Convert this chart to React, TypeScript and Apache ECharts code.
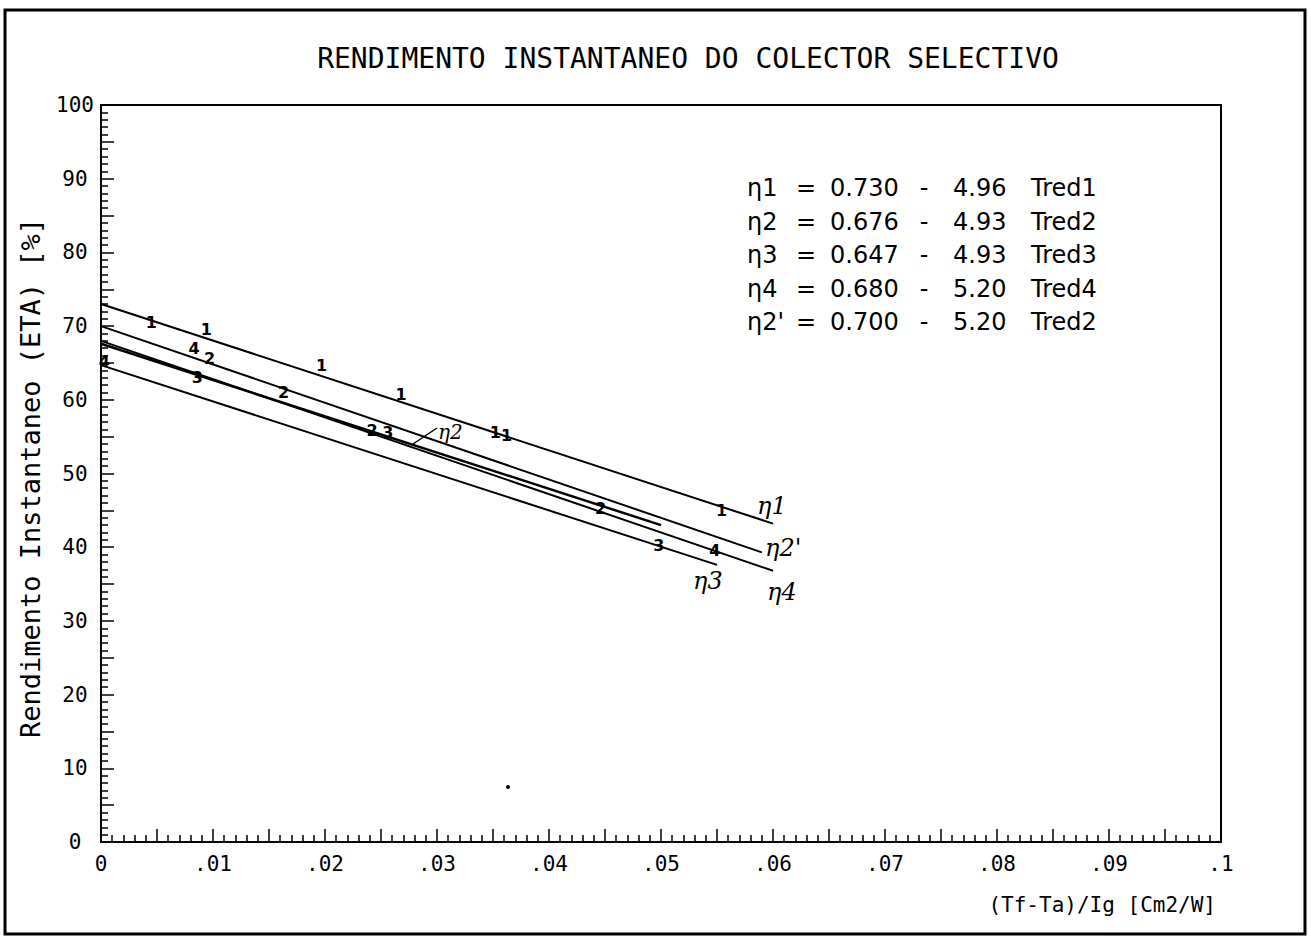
import React, { useEffect, useRef } from 'react';
import * as echarts from 'echarts';

const TITLE = 'RENDIMENTO INSTANTANEO DO COLECTOR SELECTIVO';
const X_NAME = '(Tf-Ta)/Ig [Cm2/W]';
const Y_NAME = 'Rendimento Instantaneo (ETA) [%]';

// Regression lines (consistent with the equations)
const LINE_ETA1 = [[0, 73.0], [0.060, 43.2]];
const LINE_ETA2 = [[0, 67.6], [0.050, 43.0]];
const LINE_ETA2P = [[0, 70.0], [0.059, 39.3]];
const LINE_ETA3 = [[0, 64.7], [0.055, 37.6]];
const LINE_ETA4 = [[0, 68.0], [0.060, 36.8]];

// Measured points, plotted with the run digit
const PTS_1 = [
  [0.0045, 70.5], [0.0094, 69.6], [0.0197, 64.6],
  [0.0268, 60.7], [0.0352, 55.6], [0.0362, 55.2], [0.0554, 45.0],
];
const PTS_2 = [
  [0.0097, 65.6], [0.0163, 61.0],
  [0.0242, 55.9], [0.0446, 45.2],
];
const PTS_3 = [[0.0086, 63.0], [0.0256, 55.6], [0.0498, 40.2]];
const PTS_4 = [[0.0003, 65.2], [0.0083, 67.0], [0.0548, 39.5]];

const EQ_NAMES = ['η1', 'η2', 'η3', 'η4', "η2'"];
const EQ_A = ['0.730', '0.676', '0.647', '0.680', '0.700'];
const EQ_B = ['4.96', '4.93', '4.93', '5.20', '5.20'];
const EQ_T = ['Tred1', 'Tred2', 'Tred3', 'Tred4', 'Tred2'];

const MONO = '"DejaVu Sans Mono", monospace';
const SANS = '"DejaVu Sans", sans-serif';
const HAND = '"DejaVu Serif", serif';

function xLabel(v: number): string {
  const k = Math.round(v * 1000);
  if (k % 10 !== 0) return '';
  if (k === 0) return '0';
  if (k === 100) return '.1';
  return '.' + String(k / 10).padStart(2, '0');
}

export default function App() {
  const ref = useRef<HTMLDivElement>(null);
  useEffect(() => {
    if (!ref.current) return;
    const chart = echarts.init(ref.current, null, { renderer: 'svg' });

    const lineSeries = (data: number[][], w = 2) => ({
      type: 'line',
      data,
      symbol: 'none',
      lineStyle: { color: '#000', width: w },
      z: 3,
    });
    const ptSeries = (data: number[][], digit: string) => ({
      type: 'scatter',
      data,
      symbol: 'circle',
      symbolSize: 1,
      itemStyle: { color: '#000', opacity: 0 },
      label: {
        show: true,
        position: 'inside',
        formatter: digit,
        color: '#000',
        opacity: 1,
        textBorderWidth: 0,
        fontFamily: SANS,
        fontSize: 16,
        fontWeight: 'bold',
      },
      z: 4,
    });

    const eqTexts: any[] = [];
    EQ_NAMES.forEach((n, i) => {
      const y = 188 + i * 33.5;
      const st = { fill: '#000', font: `24px ${SANS}`, textVerticalAlign: 'middle' };
      eqTexts.push({ type: 'text', x: 747, y, style: { ...st, text: n, textAlign: 'left' } });
      eqTexts.push({ type: 'text', x: 806, y, style: { ...st, text: '=', textAlign: 'center' } });
      eqTexts.push({ type: 'text', x: 830, y, style: { ...st, text: EQ_A[i], textAlign: 'left' } });
      eqTexts.push({ type: 'text', x: 924, y, style: { ...st, text: '-', textAlign: 'center' } });
      eqTexts.push({ type: 'text', x: 953, y, style: { ...st, text: EQ_B[i], textAlign: 'left' } });
      eqTexts.push({ type: 'text', x: 1031, y, style: { ...st, text: EQ_T[i], textAlign: 'left' } });
    });

    const handSt = { fill: '#000', font: `italic 24px ${HAND}`, textVerticalAlign: 'middle', textAlign: 'left' };

    chart.setOption({
      animation: false,
      backgroundColor: '#fff',
      grid: {
        left: 101, right: 90, top: 105, bottom: 96,
        show: true, borderColor: '#000', borderWidth: 2, backgroundColor: 'transparent',
      },
      xAxis: {
        type: 'value', min: 0, max: 0.1, interval: 0.005,
        axisLine: { show: true, lineStyle: { color: '#000', width: 2 } },
        axisTick: { show: true, inside: true, length: 13, lineStyle: { color: '#000', width: 1.5 } },
        minorTick: { show: true, splitNumber: 5, length: 7, lineStyle: { color: '#000', width: 1.5 } },
        splitLine: { show: false },
        axisLabel: {
          formatter: xLabel, margin: 11, color: '#000', fontFamily: MONO, fontSize: 21,
          showMinLabel: true, showMaxLabel: true,
        },
      },
      yAxis: {
        type: 'value', min: 0, max: 100, interval: 5,
        axisLine: { show: true, lineStyle: { color: '#000', width: 2 } },
        axisTick: { show: true, inside: true, length: 13, lineStyle: { color: '#000', width: 1.5 } },
        minorTick: { show: true, splitNumber: 5, length: 7, lineStyle: { color: '#000', width: 1.5 } },
        splitLine: { show: false },
        axisLabel: {
          formatter: (v: number) => (v % 10 === 0 ? String(v) : ''),
          align: 'center', margin: 26, color: '#000', fontFamily: MONO, fontSize: 21,
          showMinLabel: true, showMaxLabel: true,
        },
      },
      series: [
        lineSeries(LINE_ETA1),
        lineSeries(LINE_ETA2, 2.5),
        lineSeries(LINE_ETA2P),
        lineSeries(LINE_ETA3),
        lineSeries(LINE_ETA4),
        ptSeries(PTS_1, '1'),
        ptSeries(PTS_2, '2'),
        ptSeries(PTS_3, '3'),
        ptSeries(PTS_4, '4'),
      ],
      graphic: [
        { type: 'rect', shape: { x: 5, y: 10, width: 1300, height: 924 }, style: { fill: 'none', stroke: '#000', lineWidth: 3 }, silent: true },
        { type: 'text', x: 688, y: 58, style: { text: TITLE, fill: '#000', font: `28px ${MONO}`, textAlign: 'center', textVerticalAlign: 'middle' } },
        { type: 'text', x: 1216, y: 905, style: { text: X_NAME, fill: '#000', font: `21px ${MONO}`, textAlign: 'right', textVerticalAlign: 'middle' } },
        { type: 'text', x: 30, y: 478, rotation: Math.PI / 2, style: { text: Y_NAME, fill: '#000', font: `27px ${MONO}`, textAlign: 'center', textVerticalAlign: 'middle' } },
        ...eqTexts,
        { type: 'text', x: 757, y: 506, style: { ...handSt, text: 'η1' } },
        { type: 'text', x: 765, y: 548, style: { ...handSt, text: "η2'" } },
        { type: 'text', x: 693, y: 581, style: { ...handSt, text: 'η3' } },
        { type: 'text', x: 767, y: 592, style: { ...handSt, text: 'η4' } },
        { type: 'text', x: 438, y: 432, style: { ...handSt, text: 'η2', font: `italic 20px ${HAND}` } },
        { type: 'line', shape: { x1: 413, y1: 444, x2: 437, y2: 428 }, style: { stroke: '#000', lineWidth: 1.5 } },
        { type: 'circle', shape: { cx: 508, cy: 787, r: 2 }, style: { fill: '#000' } },
      ],
    });
    return () => chart.dispose();
  }, []);
  return (
    <div
      ref={ref}
      style={{ position: 'absolute', left: 0, top: 0, width: 1311, height: 938, background: '#fff' }}
    />
  );
}
